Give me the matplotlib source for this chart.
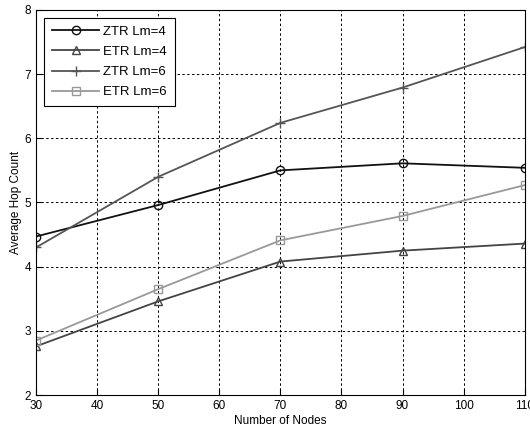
import numpy as np
import matplotlib
matplotlib.use('Agg')
import matplotlib.pyplot as plt

plt.rcParams['font.family'] = ['Liberation Sans', 'DejaVu Sans']
plt.rcParams['font.size'] = 8

nodes = [30, 50, 70, 90, 110]
ztr_lm4 = [4.47, 4.96, 5.50, 5.61, 5.54]
etr_lm4 = [2.76, 3.46, 4.08, 4.25, 4.36]
ztr_lm6 = [4.30, 5.40, 6.24, 6.79, 7.42]
etr_lm6 = [2.85, 3.65, 4.41, 4.79, 5.27]

fig = plt.figure(figsize=(5.3, 4.29), dpi=100)
ax = fig.add_axes([0.068, 0.079, 0.922, 0.898])

ax.plot(nodes, ztr_lm4, color='#111111', marker='o', markersize=6, mfc='none', lw=1.3, label='ZTR Lm=4')
ax.plot(nodes, etr_lm4, color='#444444', marker='^', markersize=6, mfc='none', lw=1.3, label='ETR Lm=4')
ax.plot(nodes, ztr_lm6, color='#555555', marker='+', markersize=7, lw=1.3, label='ZTR Lm=6')
ax.plot(nodes, etr_lm6, color='#999999', marker='s', markersize=6, mfc='none', lw=1.3, label='ETR Lm=6')

ax.set_xlim(30, 110)
ax.set_ylim(2, 8)
ax.set_xticks(np.arange(30, 111, 10))
ax.set_yticks(np.arange(2, 9, 1))
ax.grid(True, color='black', linestyle=(0, (2.5, 2.5)), linewidth=0.7)
ax.tick_params(direction='in', length=4, colors='black', labelsize=8.5)
for s in ax.spines.values():
    s.set_color('black')
    s.set_linewidth(0.8)

ax.set_xlabel('Number of Nodes', labelpad=2, fontsize=8.5)
ax.set_ylabel('Average Hop Count', labelpad=2, fontsize=8.5)

leg = ax.legend(loc='upper left', fancybox=False, edgecolor='black', framealpha=1,
                fontsize=9.5, handlelength=3.6, borderaxespad=0.6, labelspacing=0.6,
                handletextpad=0.3, borderpad=0.6)
leg.get_frame().set_linewidth(0.8)

fig.savefig('out.png', dpi=100)
